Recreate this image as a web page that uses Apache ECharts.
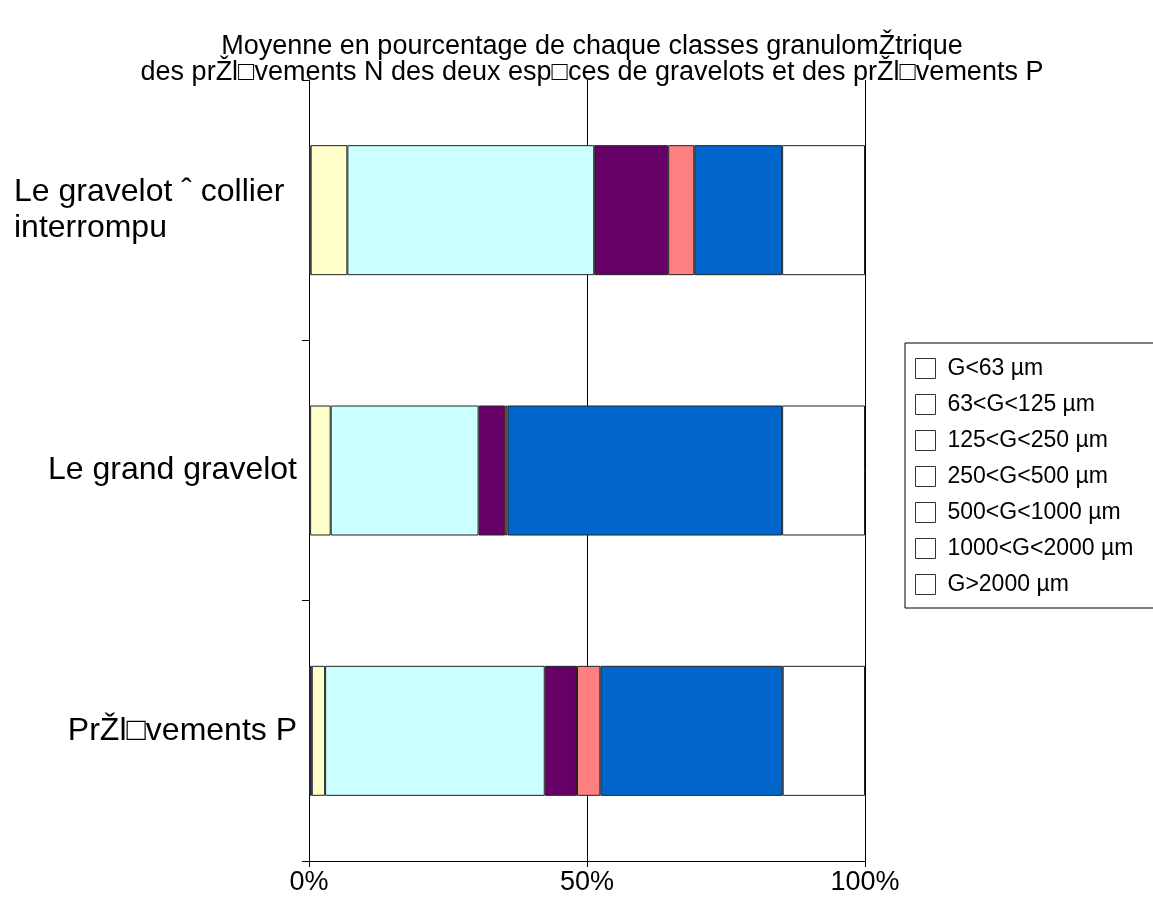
<!DOCTYPE html>
<html><head><meta charset="utf-8">
<script src="https://cdn.jsdelivr.net/npm/echarts@6/dist/echarts.min.js"></script>
<style>html,body{margin:0;padding:0;background:#fff}#c{width:1153px;height:905px}</style>
</head><body><div id="c"></div>
<script>
const categories = ["Le gravelot \u02C6 collier\ninterrompu", "Le grand gravelot", "Pr\u017Dl\u25A1vements P"];
const seriesNames = ["G<63 \u00B5m", "63<G<125 \u00B5m", "125<G<250 \u00B5m", "250<G<500 \u00B5m", "500<G<1000 \u00B5m", "1000<G<2000 \u00B5m", "G>2000 \u00B5m"];
const g63 = [0.3, 0.2, 0.5];
const g125 = [6.6, 3.7, 2.4];
const g250 = [44.4, 26.6, 39.5];
const g500 = [13.3, 4.8, 5.8];
const g1000 = [4.7, 0.4, 4.2];
const g2000 = [15.8, 49.4, 32.8];
const gOver = [14.9, 14.9, 14.8];
const colors = ["#333366", "#FFFFCC", "#CCFFFF", "#660066", "#FF8080", "#0066CC", "#FFFFFF"];
const values = [g63, g125, g250, g500, g1000, g2000, gOver];

const font = "Liberation Sans, Arial, sans-serif";
const chart = echarts.init(document.getElementById('c'), null, {renderer: 'canvas'});
chart.setOption({
  animation: false,
  backgroundColor: '#fff',
  title: {
    text: "Moyenne en pourcentage de chaque classes granulom\u017Dtrique\ndes pr\u017Dl\u25A1vements N des deux esp\u25A1ces de gravelots et des pr\u017Dl\u25A1vements P",
    left: 587, textAlign: 'center', top: 29,
    textStyle: {fontFamily: font, fontSize: 27, fontWeight: 'normal', color: '#000', lineHeight: 26}
  },
  legend: {
    orient: 'vertical', left: 905, top: 343,
    padding: [14, 80, 12, 10], itemGap: 13, itemWidth: 20, itemHeight: 20,
    borderColor: '#000', borderWidth: 1, backgroundColor: '#fff',
    icon: 'rect',
    textStyle: {fontFamily: font, fontSize: 23, color: '#000', lineHeight: 20, padding: [0, 0, 0, 7]},
    data: seriesNames.map(n => ({name: n, itemStyle: {color: '#fff', borderColor: '#333', borderWidth: 1}}))
  },
  grid: {left: 309, right: 288, top: 80, bottom: 44, containLabel: false},
  xAxis: {
    type: 'value', min: 0, max: 100, interval: 50,
    axisLine: {show: true, lineStyle: {color: '#000', width: 1}},
    axisTick: {show: true, length: 6, lineStyle: {color: '#000'}},
    splitLine: {show: true, lineStyle: {color: '#000', width: 1}},
    axisLabel: {formatter: v => v + '%', fontFamily: font, fontSize: 27, color: '#000', margin: 8}
  },
  yAxis: {
    type: 'category', data: categories, inverse: true,
    axisLine: {show: true, lineStyle: {color: '#000', width: 1}},
    axisTick: {show: true, length: 7, lineStyle: {color: '#000'}},
    axisLabel: {
      fontFamily: font, fontSize: 32, color: '#000', margin: 12, align: 'right',
      formatter: v => v.indexOf('\n') >= 0 ? v.split('\n').map(s => '{l|' + s + '}').join('\n') : v,
      rich: {l: {fontFamily: font, fontSize: 32, color: '#000', width: 283, align: 'left', lineHeight: 36}}
    }
  },
  series: values.map((d, i) => ({
    name: seriesNames[i], type: 'bar', stack: 'total', barWidth: 130,
    data: d,
    itemStyle: {color: colors[i], borderColor: '#222', borderWidth: 1}
  }))
});
</script></body></html>
